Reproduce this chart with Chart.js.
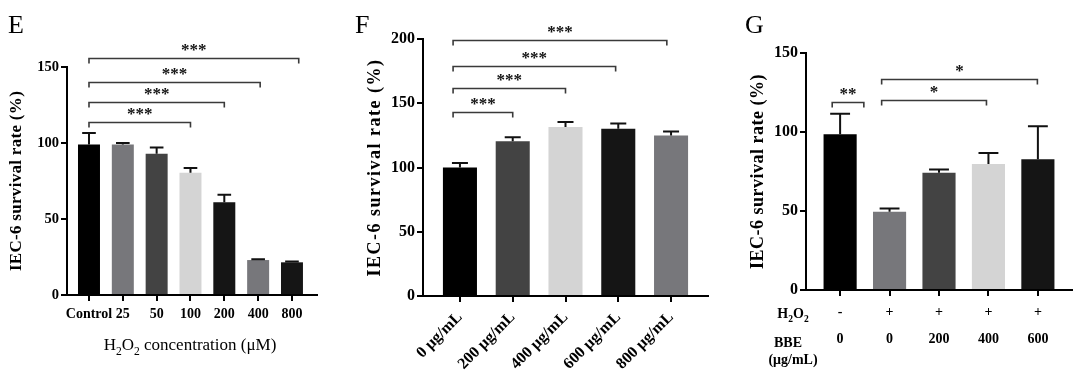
<!DOCTYPE html>
<html><head><meta charset="utf-8">
<script src="https://cdn.jsdelivr.net/npm/chart.js@4.4.0/dist/chart.umd.min.js"></script>
<style>
html,body{margin:0;padding:0;background:#fff;}
#wrap{position:relative;width:1080px;height:388px;overflow:hidden;background:#fff;}
canvas{position:absolute;top:0;}
</style></head><body>
<div id="wrap">
<canvas id="cE" width="350" height="388" style="left:0px"></canvas>
<canvas id="cF" width="370" height="388" style="left:350px"></canvas>
<canvas id="cG" width="360" height="388" style="left:720px"></canvas>
</div>
<script>
// ---------------- DATA ----------------
const eCategories = ['Control','25','50','100','200','400','800'];
const eMeans  = [99, 99, 93, 80.5, 61, 23, 21.5];
const eErrors = [7.5, 1, 4, 3, 5, 0.5, 0.5];
const eColors = ['#000000','#77777b','#434343','#d4d4d4','#151515','#77777b','#151515'];
const eYTicks = [0, 50, 100, 150];
const eComparisons = [[0,3,'***'],[0,4,'***'],[0,5,'***'],[0,6,'***']];

const fCategories = ['0 μg/mL','200 μg/mL','400 μg/mL','600 μg/mL','800 μg/mL'];
const fMeans  = [100, 120.5, 131.5, 130.2, 125];
const fErrors = [3.5, 3, 4, 4, 3];
const fColors = ['#000000','#434343','#d4d4d4','#151515','#77777b'];
const fYTicks = [0, 50, 100, 150, 200];
const fComparisons = [[0,1,'***'],[0,2,'***'],[0,3,'***'],[0,4,'***']];

const gH2O2 = ['-','+','+','+','+'];
const gBBE  = ['0','0','200','400','600'];
const gMeans  = [98.5, 49.6, 74.2, 79.7, 82.7];
const gErrors = [13, 2, 2, 7, 21];
const gColors = ['#000000','#77777b','#434343','#d4d4d4','#151515'];
const gYTicks = [0, 50, 100, 150];
const gComparisons = [[0,1,'**'],[1,3,'*'],[1,4,'*']];

const yTitle = 'IEC-6 survival rate (%)';

// ---------------- LAYOUT (annotation geometry) ----------------
const SERIF = "'Liberation Serif','Times New Roman',serif";
const eBracketGeom = [{l:0,r:0,lv:114},{l:0,r:0,lv:127.2},{l:0,r:0.06,lv:140.3},{l:0,r:0.2,lv:155.7}];
const fBracketGeom = [{l:-0.13,r:0,lv:143},{l:-0.13,r:0,lv:162},{l:-0.13,r:-0.05,lv:179},{l:-0.13,r:-0.08,lv:199}];
const gBracketGeom = [{l:-0.16,r:-0.52,lv:119.2},{l:-0.16,r:-0.04,lv:120.3},{l:-0.16,r:-0.01,lv:133.4}];

function subText(ctx, parts, x, y, size, weight, align){
  const sub = size*0.68;
  let total = 0;
  const ws = parts.map(([t,s])=>{ctx.font = `${weight} ${s?sub:size}px ${SERIF}`; const w=ctx.measureText(t).width; total+=w; return w;});
  let cx = align==='center' ? x-total/2 : x;
  ctx.textAlign='left'; ctx.textBaseline='alphabetic';
  parts.forEach(([t,s],i)=>{ctx.font = `${weight} ${s?sub:size}px ${SERIF}`; ctx.fillText(t, cx, s? y+size*0.28 : y); cx+=ws[i];});
}

function annotPlugin(cfg){
  return {
    id:'annot'+cfg.id,
    afterDatasetsDraw(chart){
      const ctx=chart.ctx, meta=chart.getDatasetMeta(0), ys=chart.scales.y;
      ctx.save(); ctx.strokeStyle='#111'; ctx.lineWidth=2;
      meta.data.forEach((bar,i)=>{
        const top = ys.getPixelForValue(cfg.means[i]+cfg.errors[i]);
        const half = bar.width*cfg.capFrac/2;
        ctx.beginPath();
        ctx.moveTo(bar.x, bar.y); ctx.lineTo(bar.x, top);
        ctx.moveTo(bar.x-half, top); ctx.lineTo(bar.x+half, top);
        ctx.stroke();
      });
      ctx.restore();
    },
    afterDraw(chart){
      const ctx=chart.ctx, xs=chart.scales.x, ys=chart.scales.y;
      ctx.save();
      cfg.comparisons.forEach((c,i)=>{
        const g = cfg.bracketGeom[i];
        const x1 = xs.getPixelForValue(c[0]+g.l), x2 = xs.getPixelForValue(c[1]+g.r);
        const y = Math.round(ys.getPixelForValue(g.lv))+0.5;
        ctx.strokeStyle='#3a3a3a'; ctx.lineWidth=1.6;
        ctx.beginPath(); ctx.moveTo(x1,y+5); ctx.lineTo(x1,y); ctx.lineTo(x2,y); ctx.lineTo(x2,y+5); ctx.stroke();
        ctx.fillStyle='#111'; ctx.font=`bold ${cfg.starSize}px ${SERIF}`;
        ctx.textAlign='center'; ctx.textBaseline='alphabetic';
        ctx.fillText(c[2], (x1+x2)/2, y-cfg.starGap);
      });
      // panel letter
      ctx.fillStyle='#000'; ctx.font=`26px ${SERIF}`; ctx.textAlign='left'; ctx.textBaseline='alphabetic';
      ctx.fillText(cfg.letter, cfg.letterX, 33);
      if (cfg.extra) cfg.extra(ctx, chart);
      ctx.restore();
    }
  };
}

function makeChart(cfg){
  const tickFont = {family:SERIF, size:cfg.yTickSize, weight:'bold'};
  return new Chart(document.getElementById(cfg.canvas), {
    type:'bar',
    data:{datasets:[{data:cfg.means.map((v,i)=>({x:i,y:v})), backgroundColor:cfg.colors, borderWidth:0,
      barPercentage:cfg.barPct, categoryPercentage:1}]},
    options:{
      responsive:false, animation:false, devicePixelRatio:1,
      layout:{padding:cfg.pad},
      plugins:{legend:{display:false}, tooltip:{enabled:false}},
      scales:{
        x:{type:'linear', min:cfg.xmin, max:cfg.xmax, bounds:'data', offset:false,
          afterBuildTicks:s=>{s.ticks = cfg.labels.map((_,i)=>({value:i}));},
          afterFit:s=>{s.height = cfg.xHeight;},
          ticks:{callback:(v,i)=>cfg.labels[i], autoSkip:false, color:'#000', padding:cfg.xPad,
            font:{family:SERIF, size:cfg.xTickSize, weight:'bold', lineHeight:cfg.xLineHeight||1.2},
            minRotation:cfg.rot||0, maxRotation:cfg.rot||0},
          grid:{display:true, drawOnChartArea:false, drawTicks:true, tickLength:6, lineWidth:2, color:'#000', offset:false},
          border:{display:true, width:2, color:'#000'}
        },
        y:{min:0, max:cfg.ymax,
          afterBuildTicks:s=>{s.ticks = cfg.yTicks.map(v=>({value:v}));},
          afterFit:s=>{
            s.width = cfg.yWidth;
            if(!s.__wrapped){
              const orig = s.drawTitle;
              s.drawTitle = function(){ const c=this.ctx; c.letterSpacing=cfg.titleSpacing+'px'; orig.apply(this, arguments); c.letterSpacing='0px'; };
              s.__wrapped = true;
            }
          },
          ticks:{color:'#000', padding:2, font:tickFont},
          grid:{display:true, drawOnChartArea:false, drawTicks:true, tickLength:6, lineWidth:2, color:'#000'},
          border:{display:true, width:2, color:'#000'},
          title:{display:true, text:yTitle, color:'#000', font:{family:SERIF, size:cfg.titleSize, weight:'bold'}, padding:{top:cfg.titlePad, bottom:0}}
        }
      }
    },
    plugins:[annotPlugin(cfg)]
  });
}

makeChart({id:'E', canvas:'cE', letter:'E', letterX:8,
  labels:eCategories, means:eMeans, errors:eErrors, colors:eColors, yTicks:eYTicks, ymax:150,
  comparisons:eComparisons, bracketGeom:eBracketGeom,
  xmin:-0.65, xmax:6.74, barPct:0.65, capFrac:0.62,
  pad:{left:0, right:33, top:67, bottom:0}, yWidth:67, xHeight:93,
  yTickSize:14.5, xTickSize:14, xPad:5, titleSize:17, titlePad:6.8, titleSpacing:0.3,
  starSize:17, starGap:4,
  extra:(ctx)=>{ ctx.fillStyle='#000';
    subText(ctx, [['H',0],['2',1],['O',0],['2',1],[' concentration (μM)',0]], 190, 350, 17, 'normal', 'center'); }
});

makeChart({id:'F', canvas:'cF', letter:'F', letterX:5,
  labels:fCategories, means:fMeans, errors:fErrors, colors:fColors, yTicks:fYTicks, ymax:200,
  comparisons:fComparisons, bracketGeom:fBracketGeom,
  xmin:-0.7, xmax:4.7, barPct:0.645, capFrac:0.47,
  pad:{left:0, right:12, top:39, bottom:0}, yWidth:73, xHeight:92,
  yTickSize:16, xTickSize:16, xPad:6, rot:45, titleSize:18, titlePad:14.2, titleSpacing:1.5,
  starSize:17, starGap:4
});

makeChart({id:'G', canvas:'cG', letter:'G', letterX:25,
  labels:gH2O2.map((h,i)=>[h, gBBE[i]]), means:gMeans, errors:gErrors, colors:gColors, yTicks:gYTicks, ymax:150,
  comparisons:gComparisons, bracketGeom:gBracketGeom,
  xmin:-0.69, xmax:4.69, barPct:0.67, capFrac:0.6,
  pad:{left:0, right:8, top:53, bottom:0}, yWidth:86, xHeight:98,
  yTickSize:16, xTickSize:14, xPad:3, xLineHeight:1.93, titleSize:18, titlePad:27.2, titleSpacing:0.5,
  starSize:17, starGap:4,
  extra:(ctx)=>{ ctx.fillStyle='#000';
    subText(ctx, [['H',0],['2',1],['O',0],['2',1]], 73, 318, 14, 'bold', 'center');
    subText(ctx, [['BBE',0]], 68, 347, 14, 'bold', 'center');
    subText(ctx, [['(μg/mL)',0]], 73, 364, 14, 'bold', 'center'); }
});
</script>
</body></html>
